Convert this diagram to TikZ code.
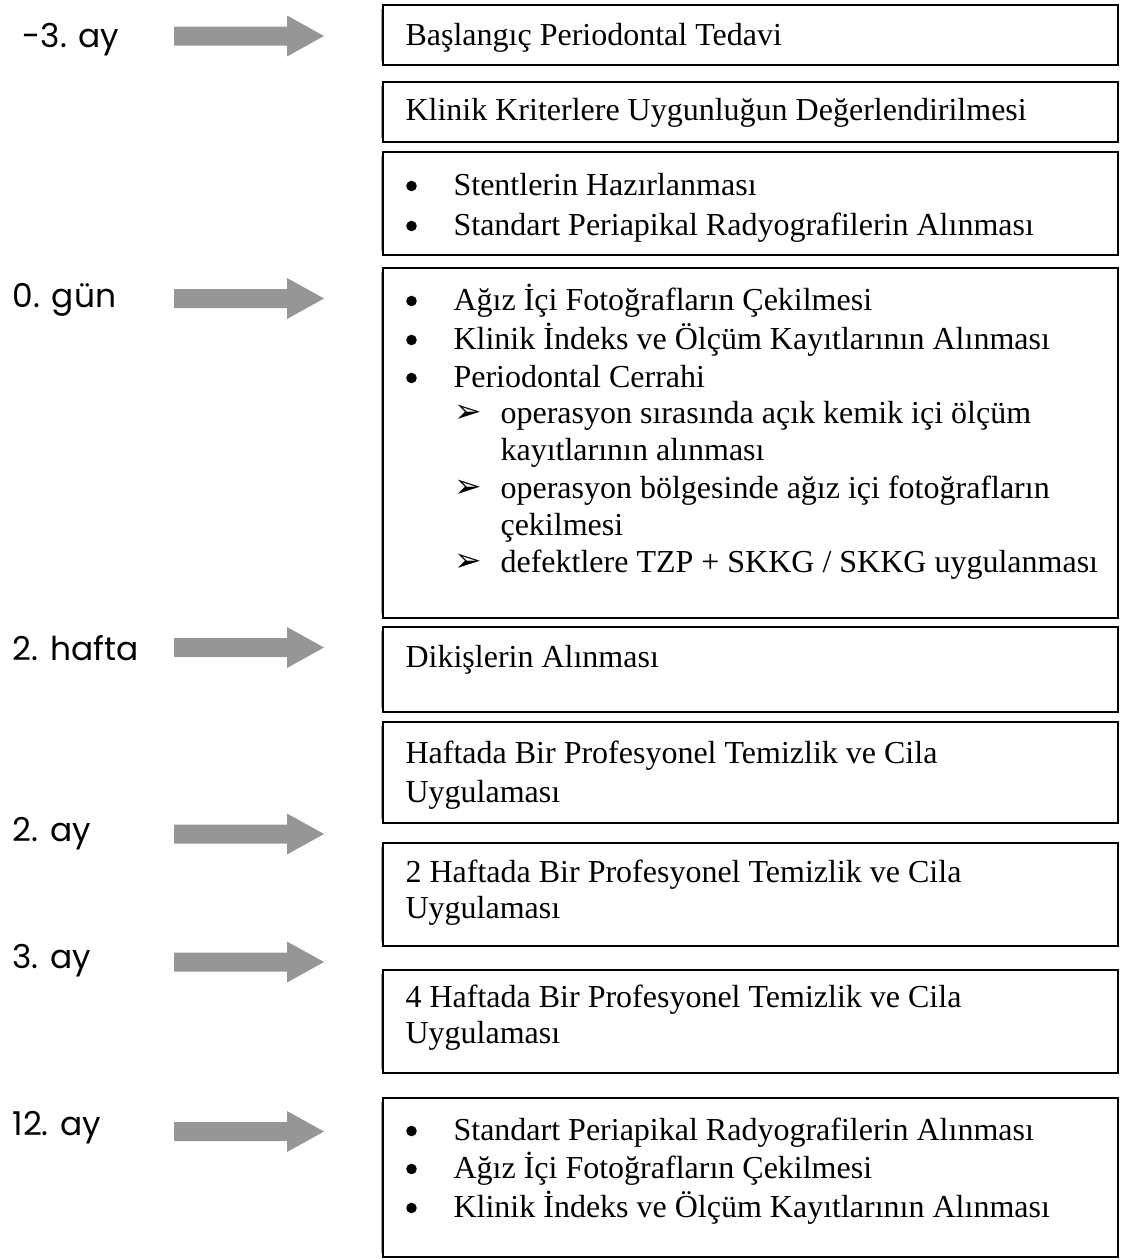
\documentclass[tikz,border=0pt]{standalone}
\usepackage{fontspec}
\setmainfont{Liberation Serif}
\newfontfamily\labelfont{Poppins}
\newfontfamily\symfont{DejaVu Sans}
\definecolor{arrowgray}{RGB}{150,150,150}
\tikzset{
  boxline/.style={draw=black, line width=0.7pt},
  shadowline/.style={draw=gray!70, line width=0.5pt},
  itemtext/.style={anchor=base west, inner sep=0pt, font=\fontsize{11.2}{13}\selectfont},
  bulletdot/.style={circle, fill=black, inner sep=0pt, minimum size=3.7pt},
  timelabel/.style={anchor=base west, inner sep=0pt, font=\labelfont\fontsize{11.5}{13}\selectfont},
  pics/timearrow/.style={code={
    \fill[arrowgray] (0,-9.5) -- (113,-9.5) -- (113,-20.5) -- (150,0)
      -- (113,20.5) -- (113,9.5) -- (0,9.5) -- cycle;
  }}
}
\newcommand{\flowbox}[2]{%
  \draw[shadowline] (381.5,#1+4) -- (381.5,#2-4);
  \draw[boxline] (383,#1) rectangle (1118,#2);
}
\newcommand{\subarrow}{{\symfont\fontsize{11.5}{12}\selectfont ➢}}
\begin{document}
\begin{tikzpicture}[x=0.35pt, y=-0.35pt]
\useasboundingbox (0,0) rectangle (1121,1260);

% time labels
\node[timelabel] (l1) at (22,47) {-3. ay};
\node[timelabel] (l2) at (12,307) {0. gün};
\node[timelabel] (l3) at (12,660) {2. hafta};
\node[timelabel] (l4) at (12,841) {2. ay};
\node[timelabel] (l5) at (12,968) {3. ay};
\node[timelabel] (l6) at (12,1135) {12. ay};

% arrows
\pic at (174,36) {timearrow};
\pic at (174,298.5) {timearrow};
\pic at (174,647.5) {timearrow};
\pic at (174,834) {timearrow};
\pic at (174,962) {timearrow};
\pic at (174,1131.5) {timearrow};

% boxes
\flowbox{5}{65}
\flowbox{82}{142}
\flowbox{152}{255}
\flowbox{268}{618}
\flowbox{627}{712}
\flowbox{722}{823}
\flowbox{843}{946}
\flowbox{970}{1073}
\flowbox{1098}{1257}

% box 1, 2
\node[itemtext] (b1) at (405,45) {Başlangıç Periodontal Tedavi};
\node[itemtext] (b2) at (405,120) {Klinik Kriterlere Uygunluğun Değerlendirilmesi};

% box 3
\node[bulletdot] (b3d1) at (411.5,186) {};
\node[itemtext] (b3a) at (453,195) {Stentlerin Hazırlanması};
\node[bulletdot] (b3d2) at (411.5,226) {};
\node[itemtext] (b3b) at (453,235) {Standart Periapikal Radyografilerin Alınması};

% box 4
\node[bulletdot] (b4d1) at (411.5,301) {};
\node[itemtext] (b4a) at (453,310) {Ağız İçi Fotoğrafların Çekilmesi};
\node[bulletdot] (b4d2) at (411.5,340) {};
\node[itemtext] (b4b) at (453,349) {Klinik İndeks ve Ölçüm Kayıtlarının Alınması};
\node[bulletdot] (b4d3) at (411.5,378) {};
\node[itemtext] (b4c) at (453,387) {Periodontal Cerrahi};
\node[itemtext] (b4s1) at (454,422) {\subarrow};
\node[itemtext] (b4e) at (500,423) {operasyon sırasında açık kemik içi ölçüm};
\node[itemtext] (b4f) at (500,460) {kayıtlarının alınması};
\node[itemtext] (b4s2) at (454,497) {\subarrow};
\node[itemtext] (b4g) at (500,498) {operasyon bölgesinde ağız içi fotoğrafların};
\node[itemtext] (b4h) at (500,535) {çekilmesi};
\node[itemtext] (b4s3) at (454,571) {\subarrow};
\node[itemtext] (b4i) at (500,572) {defektlere TZP + SKKG / SKKG uygulanması};

% box 5 - 8
\node[itemtext] (b5) at (405,667) {Dikişlerin Alınması};
\node[itemtext] (b6a) at (405,763) {Haftada Bir Profesyonel Temizlik ve Cila};
\node[itemtext] (b6b) at (405,802) {Uygulaması};
\node[itemtext] (b7a) at (405,882) {2 Haftada Bir Profesyonel Temizlik ve Cila};
\node[itemtext] (b7b) at (405,918) {Uygulaması};
\node[itemtext] (b8a) at (405,1007) {4 Haftada Bir Profesyonel Temizlik ve Cila};
\node[itemtext] (b8b) at (405,1043) {Uygulaması};

% box 9
\node[bulletdot] (b9d1) at (411.5,1131) {};
\node[itemtext] (b9a) at (453,1140) {Standart Periapikal Radyografilerin Alınması};
\node[bulletdot] (b9d2) at (411.5,1169) {};
\node[itemtext] (b9b) at (453,1178) {Ağız İçi Fotoğrafların Çekilmesi};
\node[bulletdot] (b9d3) at (411.5,1208) {};
\node[itemtext] (b9c) at (453,1217) {Klinik İndeks ve Ölçüm Kayıtlarının Alınması};
\end{tikzpicture}
\end{document}
